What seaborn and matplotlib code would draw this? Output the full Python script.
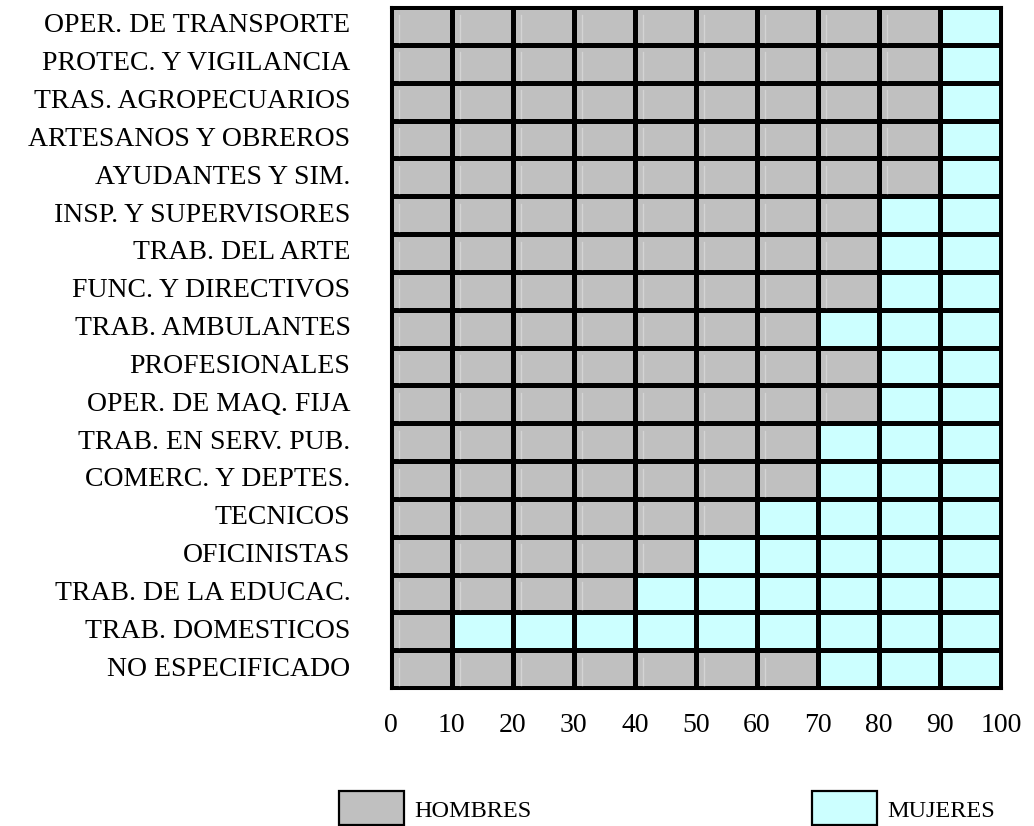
import numpy as np
import pandas as pd
import matplotlib
matplotlib.use("Agg")
import matplotlib.pyplot as plt
from matplotlib.colors import ListedColormap
from matplotlib.patches import Rectangle
import seaborn as sns

# Data: share of men (%) by occupation, one cell = 10 %
categories = [
    "OPER. DE TRANSPORTE", "PROTEC. Y VIGILANCIA", "TRAS. AGROPECUARIOS",
    "ARTESANOS Y OBREROS", "AYUDANTES Y SIM.", "INSP. Y SUPERVISORES",
    "TRAB. DEL ARTE", "FUNC. Y DIRECTIVOS", "TRAB. AMBULANTES",
    "PROFESIONALES", "OPER. DE MAQ. FIJA", "TRAB. EN SERV. PUB.",
    "COMERC. Y DEPTES.", "TECNICOS", "OFICINISTAS",
    "TRAB. DE LA EDUCAC.", "TRAB. DOMESTICOS", "NO ESPECIFICADO",
]
hombres_pct = [90, 90, 90, 90, 90, 80, 80, 80, 70, 80, 80, 70, 70, 60, 50, 40, 10, 70]
tick_labels = ["0", "10", "20", "30", "40", "50", "60", "70", "80", "90", "100"]
series_names = ["HOMBRES", "MUJERES"]

gray = "#c0c0c0"
cyan = "#ccffff"

# build the 0/1 cell matrix (0 = hombres, 1 = mujeres)
cols = np.arange(10)
cells = pd.DataFrame(
    [[0 if (c + 1) * 10 <= h else 1 for c in cols] for h in hombres_pct],
    index=categories,
)

plt.rcParams["font.family"] = ["Liberation Serif", "DejaVu Serif"]

fig = plt.figure(figsize=(10.34, 8.26), dpi=100)
ax = fig.add_axes([0.378, 0.167, 0.590, 0.8245])

sns.heatmap(
    cells, ax=ax, cmap=ListedColormap([gray, cyan]), vmin=0, vmax=1,
    cbar=False, linewidths=2.2, linecolor="black", square=False,
)

# faint bevel line inside the grey cells
for r, h in enumerate(hombres_pct):
    for c in range(h // 10):
        ax.plot([c + 0.14, c + 0.14], [r + 0.2, r + 0.92], color="#d4d4d4", lw=1)

for s in ax.spines.values():
    s.set_visible(True)
    s.set_linewidth(2.2)
    s.set_color("black")

ax.set_xticks(np.arange(11))
ax.set_xticklabels(tick_labels, fontsize=20)
ax.set_yticklabels(categories, fontsize=20, rotation=0)
ax.tick_params(axis="x", length=0, pad=18)
ax.tick_params(axis="y", length=0, pad=29)
ax.set_xlabel("")
ax.set_ylabel("")

# legend boxes at the bottom
for x0, color, name in [(0.328, gray, series_names[0]), (0.785, cyan, series_names[1])]:
    fig.patches.append(Rectangle((x0, 0.001), 0.063, 0.041, transform=fig.transFigure,
                                 facecolor=color, edgecolor="black", lw=1.6))
    fig.text(x0 + 0.073, 0.018, name, fontsize=17.5, va="center", ha="left")

fig.savefig("out.png", dpi=100)
